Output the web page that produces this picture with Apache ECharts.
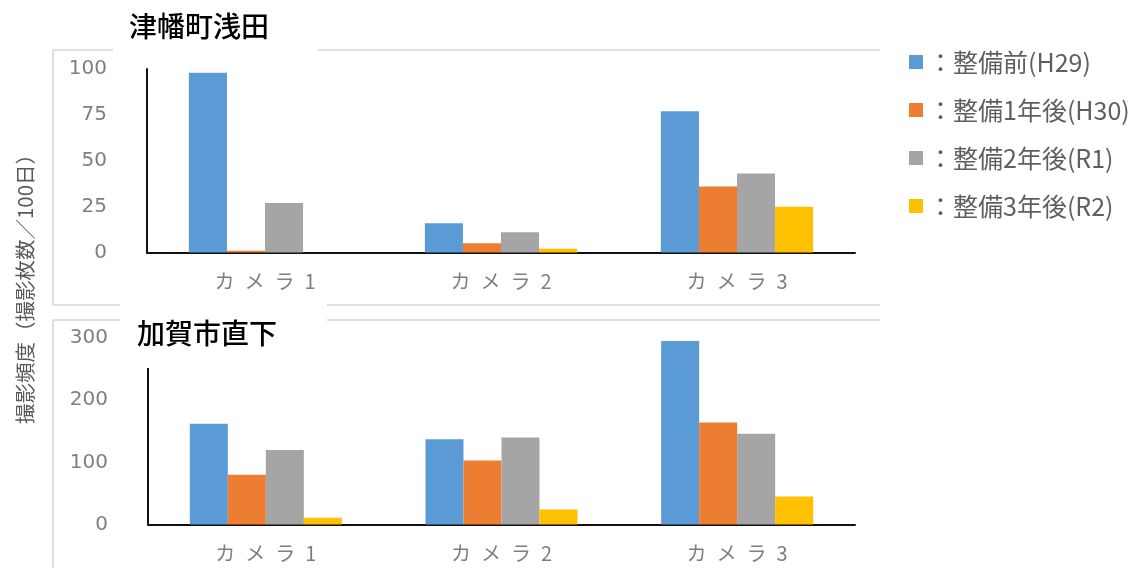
<!DOCTYPE html>
<html><head><meta charset="utf-8">
<script src="https://cdn.jsdelivr.net/npm/echarts@6/dist/echarts.min.js"></script>
<style>html,body{margin:0;padding:0;background:#fff}#c{width:1145px;height:568px}</style>
</head><body><div id="c"></div>
<script>
const categories = ['カメラ1', 'カメラ2', 'カメラ3'];
const seriesNames = ['整備前(H29)', '整備1年後(H30)', '整備2年後(R1)', '整備3年後(R2)'];
const colors = ['#5B9BD5', '#ED7D31', '#A5A5A5', '#FFC000'];
// 津幡町浅田 (per series: camera1..3)
const tsubataBefore = [98, 16, 77];
const tsubataYear1 = [1, 5, 36];
const tsubataYear2 = [27, 11, 43];
const tsubataYear3 = [0, 2, 25];
// 加賀市直下
const kagaBefore = [162, 137, 295];
const kagaYear1 = [80, 103, 164];
const kagaYear2 = [120, 140, 146];
const kagaYear3 = [11, 24, 45];
const tsubataTicks = [0, 25, 50, 75, 100];
const kagaTicks = [0, 100, 200, 300];
const panelTitles = ['津幡町浅田', '加賀市直下'];
const yAxisName = '撮影頻度（撮影枚数／100日）';

const FONT = "'Noto Sans CJK JP', 'Noto Sans', sans-serif";
const tsubataData = [tsubataBefore, tsubataYear1, tsubataYear2, tsubataYear3];
const kagaData = [kagaBefore, kagaYear1, kagaYear2, kagaYear3];

function catFmt(v) {
  return Array.from(v).join('\u2002');
}

function xAxis(gi) {
  return {
    type: 'category', gridIndex: gi, data: categories,
    axisLine: { show: true, lineStyle: { color: '#111', width: 2 } },
    axisTick: { show: false },
    axisLabel: { color: '#7f7f7f', fontSize: 20, fontFamily: FONT, margin: 19, formatter: catFmt }
  };
}
function yAxis(gi, ticks) {
  return {
    type: 'value', gridIndex: gi, min: ticks[0], max: ticks[ticks.length - 1],
    interval: ticks[1] - ticks[0],
    axisLine: { show: true, lineStyle: { color: '#111', width: 2 } },
    axisTick: { show: false },
    splitLine: { show: false },
    axisLabel: { color: '#7f7f7f', fontSize: 20, fontFamily: 'DejaVu Sans', margin: 40 }
  };
}

const series = [];
[tsubataData, kagaData].forEach((set, gi) => {
  set.forEach((vals, si) => {
    series.push({
      type: 'bar', name: seriesNames[si], xAxisIndex: gi, yAxisIndex: gi,
      data: vals, barGap: '0%', barCategoryGap: '35.5%',
      itemStyle: { color: colors[si] }
    });
  });
});

const border = { stroke: '#d4d4d4', lineWidth: 1.5 };
const chart = echarts.init(document.getElementById('c'));
chart.setOption({
  animation: false,
  backgroundColor: '#fff',
  color: colors,
  grid: [
    { left: 147, right: 290, top: 69, bottom: 568 - 252.5 },
    { left: 148, right: 290, top: 338, bottom: 568 - 524.5 }
  ],
  xAxis: [xAxis(0), xAxis(1)],
  yAxis: [yAxis(0, tsubataTicks), yAxis(1, kagaTicks)],
  legend: {
    orient: 'vertical', left: 904, top: 42,
    icon: 'rect', itemWidth: 14, itemHeight: 14, itemGap: 18,
    data: seriesNames,
    formatter: '：{name}',
    textStyle: { color: '#5f5f5f', fontSize: 25, fontFamily: FONT, lineHeight: 30 }
  },
  series: series,
  graphic: [
    // top panel frame
    { type: 'line', shape: { x1: 53, y1: 50, x2: 113, y2: 50 }, style: border, z: 1 },
    { type: 'line', shape: { x1: 318, y1: 50, x2: 880, y2: 50 }, style: border, z: 1 },
    { type: 'line', shape: { x1: 53, y1: 50, x2: 53, y2: 305 }, style: border, z: 1 },
    { type: 'line', shape: { x1: 53, y1: 305, x2: 880, y2: 305 }, style: border, z: 1 },
    // bottom panel frame
    { type: 'line', shape: { x1: 53, y1: 320, x2: 880, y2: 320 }, style: border, z: 1 },
    { type: 'line', shape: { x1: 53, y1: 320, x2: 53, y2: 568 }, style: border, z: 1 },
    // title boxes
    { type: 'rect', shape: { x: 113, y: 0, width: 205, height: 62 }, style: { fill: '#fff' }, z: 100 },
    { type: 'rect', shape: { x: 120, y: 304, width: 207, height: 64 }, style: { fill: '#fff' }, z: 100 },
    { type: 'text', x: 129, y: 26, z: 101,
      style: { text: panelTitles[0], fill: '#000', fontSize: 28, fontWeight: 500, fontFamily: FONT, align: 'left', verticalAlign: 'middle' } },
    { type: 'text', x: 137, y: 333, z: 101,
      style: { text: panelTitles[1], fill: '#000', fontSize: 28, fontWeight: 500, fontFamily: FONT, align: 'left', verticalAlign: 'middle' } },
    { type: 'text', x: 25, y: 284, rotation: Math.PI / 2, z: 101,
      style: { text: yAxisName, fill: '#595959', fontSize: 20.5, fontFamily: FONT, align: 'center', verticalAlign: 'middle' } }
  ]
});
</script>
</body></html>
